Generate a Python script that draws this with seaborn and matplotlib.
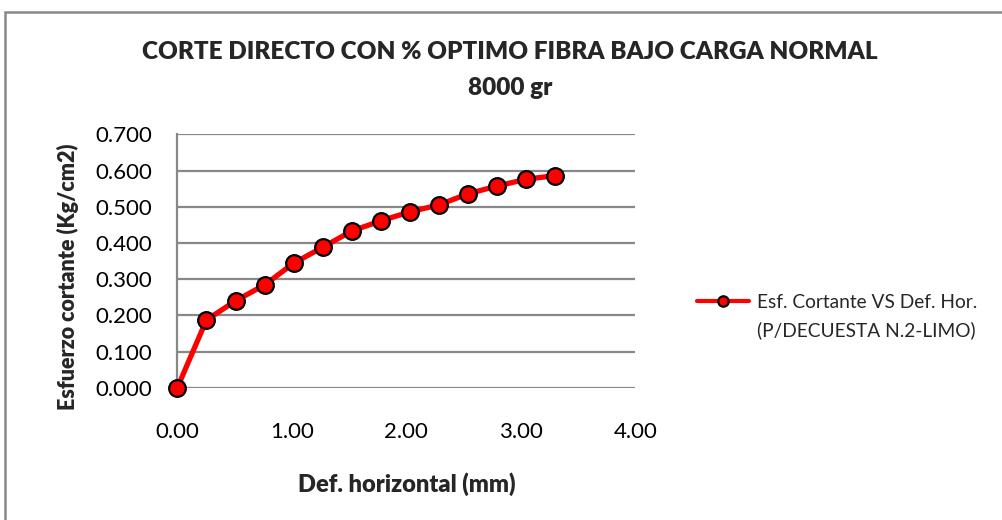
"""Corte directo: esfuerzo cortante vs deformación horizontal."""

import matplotlib

matplotlib.use("Agg")
import matplotlib.pyplot as plt
import seaborn as sns
from matplotlib.lines import Line2D
from matplotlib.patches import Rectangle

# datos
def_horizontal = [0.000, 0.254, 0.508, 0.762, 1.016, 1.270, 1.524,
                  1.778, 2.032, 2.286, 2.540, 2.794, 3.048, 3.302]
esf_cortante = [0.000, 0.187, 0.240, 0.284, 0.344, 0.388, 0.433,
                0.461, 0.486, 0.505, 0.536, 0.557, 0.576, 0.586]
x_ticks = [0.0, 1.0, 2.0, 3.0, 4.0]
y_ticks = [0.0, 0.1, 0.2, 0.3, 0.4, 0.5, 0.6, 0.7]

serie_label = ["Esf. Cortante VS Def. Hor.", "(P/DECUESTA N.2-LIMO)"]
titulo = ["CORTE DIRECTO CON % OPTIMO FIBRA BAJO CARGA NORMAL", "8000 gr"]

sns.set_style("white")
plt.rcParams["font.family"] = ["Lato", "DejaVu Sans"]

grid_c = "#888888"

fig = plt.figure(figsize=(10.02, 5.2), dpi=100, facecolor="white")
ax = fig.add_axes([0.177, 0.2544, 0.457, 0.4873])

sns.lineplot(
    x=def_horizontal,
    y=esf_cortante,
    ax=ax,
    color="#ff0000",
    linewidth=3.8,
    marker="o",
    markersize=12,
    markerfacecolor="#ff0000",
    markeredgecolor="black",
    markeredgewidth=1.6,
    clip_on=False,
    zorder=3,
)

ax.set_xlim(0, 4)
ax.set_ylim(0, 0.7)
ax.set_xticks(x_ticks)
ax.set_yticks(y_ticks)
ax.set_xticklabels([f"{v:.2f}" for v in x_ticks])
ax.set_yticklabels([f"{v:.3f}" for v in y_ticks])
ax.tick_params(axis="x", length=0, pad=25, labelsize=16, colors="black")
ax.tick_params(axis="y", length=0, pad=18, labelsize=16, colors="black")

ax.yaxis.grid(True, color=grid_c, linewidth=1.6)
ax.xaxis.grid(False)
for side in ["top", "right", "bottom"]:
    ax.spines[side].set_visible(False)
ax.spines["left"].set_color(grid_c)
ax.spines["left"].set_linewidth(1.6)

ax.set_xlabel("Def. horizontal (mm)", fontsize=17, fontweight="heavy")
ax.xaxis.set_label_coords(0.5, -0.335)
ax.set_ylabel("Esfuerzo cortante (Kg/cm2)", fontsize=15.5, fontweight="heavy")
ax.yaxis.set_label_coords(-0.214, 0.438)

fig.text(0.509, 1 - 52 / 520, titulo[0], ha="center", va="center",
         fontsize=17.5, fontweight="heavy")
fig.text(0.509, 1 - 88 / 520, titulo[1], ha="center", va="center",
         fontsize=17.5, fontweight="heavy")

handle = Line2D([], [], color="#ff0000", linewidth=3, marker="o", markersize=7.5,
                markerfacecolor="#ff0000", markeredgecolor="black", markeredgewidth=1.6)
blank = Line2D([], [], color="none")
fig.legend(
    [handle, blank],
    serie_label,
    loc="upper left",
    bbox_to_anchor=(697 / 1002, 1 - 294 / 520),
    frameon=False,
    fontsize=13.8,
    borderpad=0,
    borderaxespad=0,
    handlelength=2.7,
    handletextpad=0.42,
    labelspacing=0.52,
)

# borde del área del gráfico
fig.patches.append(
    Rectangle((5 / 1002, -0.1), 1.2, 1.1 - 12 / 520, transform=fig.transFigure,
              fill=False, edgecolor=grid_c, linewidth=1.8)
)

fig.savefig("out.png", dpi=100, facecolor="white")
plt.close(fig)
